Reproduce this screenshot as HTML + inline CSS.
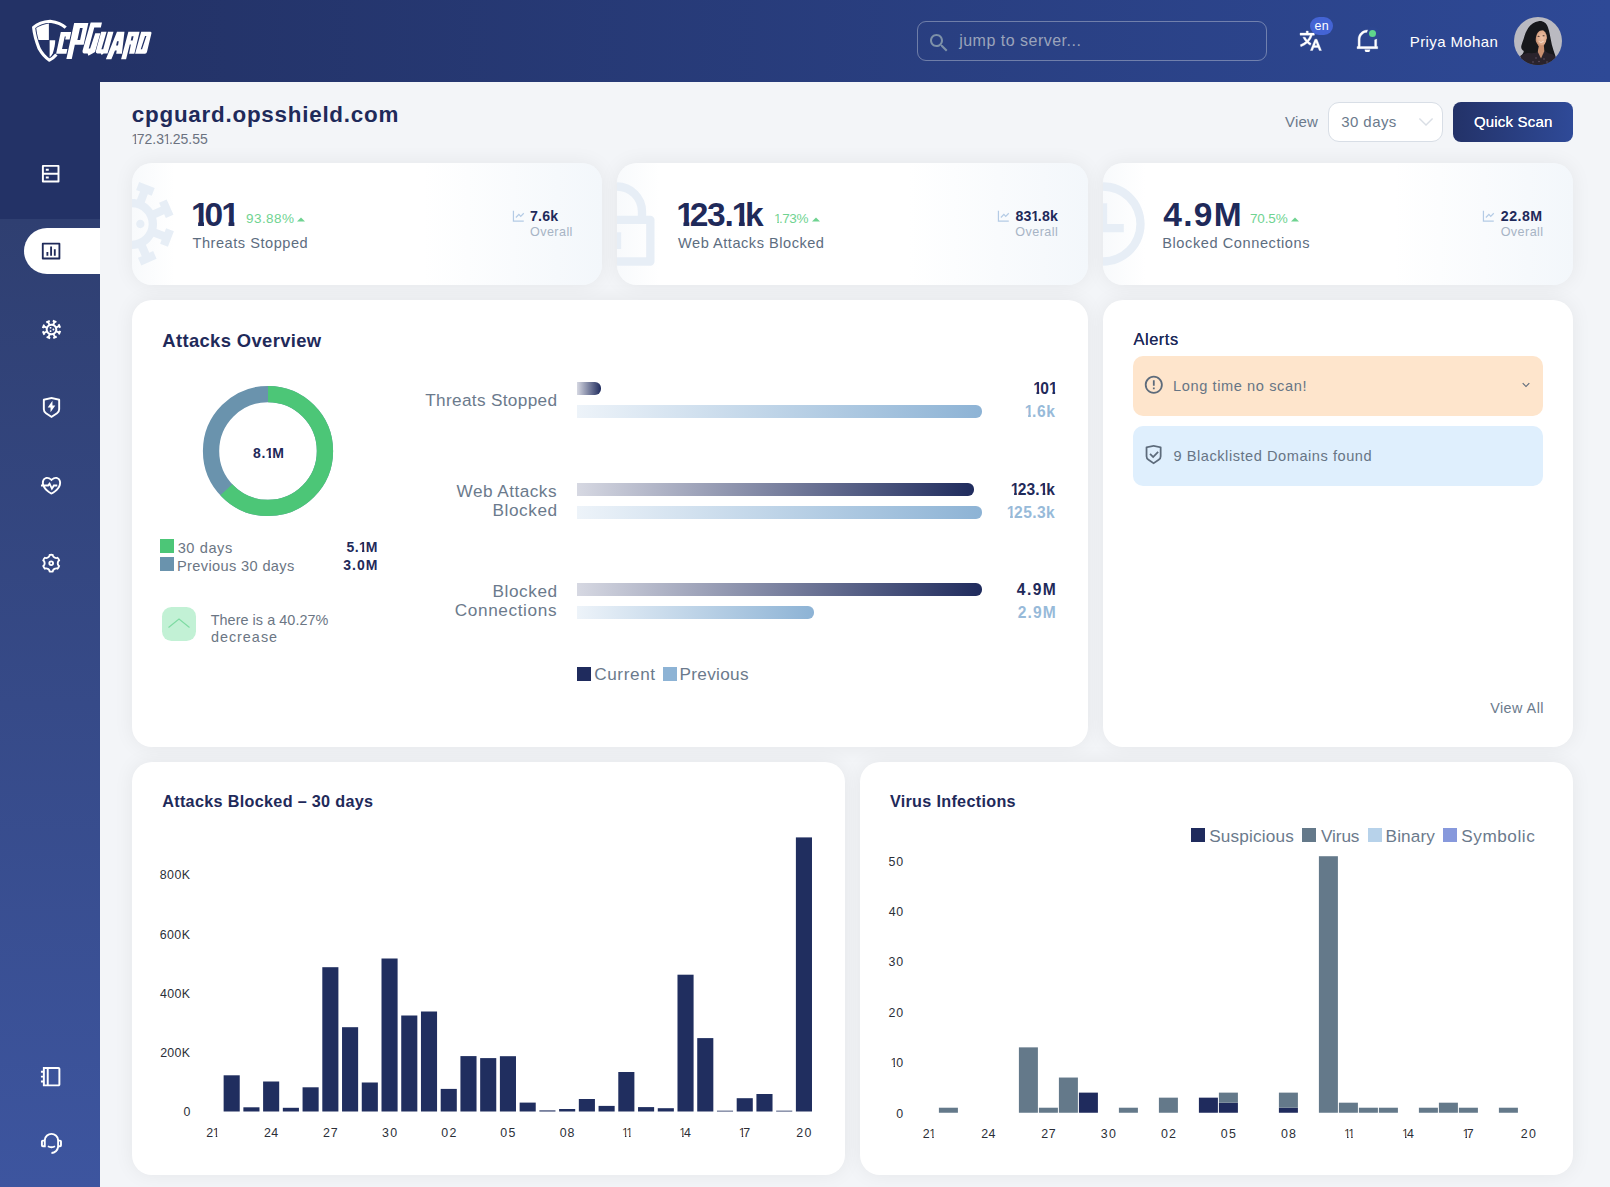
<!DOCTYPE html>
<html><head><meta charset="utf-8"><title>cPGuard</title>
<style>
html,body{margin:0;padding:0;}
body{width:1610px;height:1187px;overflow:hidden;position:relative;background:#f3f5f8;font-family:"Liberation Sans",sans-serif;}
.a{position:absolute;display:block;}
.t{position:absolute;white-space:nowrap;font-family:"Liberation Sans",sans-serif;}
.on,.ob{display:inline-block;}
.on{margin:0 -0.150em 0 -0.050em;clip-path:polygon(0 0,0.36em 0,0.36em 100%,0.235em 100%,0.235em 0.70em,0 0.70em);}
.ob{margin:0 -0.120em 0 -0.025em;clip-path:polygon(0 0,0.39em 0,0.39em 100%,0.215em 100%,0.215em 0.70em,0 0.70em);}
.card{position:absolute;background:#fff;border-radius:20px;box-shadow:0 0 20px rgba(20,20,30,0.062);overflow:hidden;}
</style></head><body>
<div class="a" style="left:0;top:0;width:1610px;height:82px;background:linear-gradient(90deg,#233266 0%,#233266 6%,#2e4996 100%);"></div>
<div class="a" style="left:0;top:82px;width:100px;height:1105px;background:linear-gradient(180deg,#2e3d6f 0%,#2f3f71 137px,#3d559f 100%);"></div>
<div class="a" style="left:0;top:0;width:100px;height:219px;background:#233266;"></div>
<div class="a" style="left:24px;top:228px;width:76px;height:46px;background:#fff;border-radius:23px 0 0 23px;"></div>
<svg class="a" style="left:39.40px;top:161.65px;" width="23.4" height="23.4" viewBox="0 0 24 24"><path fill="#fff" d="M5 11h14V5H5v6zm16-7v16a1 1 0 0 1-1 1H4a1 1 0 0 1-1-1V4a1 1 0 0 1 1-1h16a1 1 0 0 1 1 1zm-2 9H5v6h14v-6zM7 15h3v2H7v-2zm0-8h3v2H7V7z"/></svg>
<svg class="a" style="left:39.90px;top:240.20px;" width="22.2" height="22.2" viewBox="0 0 24 24"><path fill="#1f2a5a" d="M3 3h18a1 1 0 0 1 1 1v16a1 1 0 0 1-1 1H3a1 1 0 0 1-1-1V4a1 1 0 0 1 1-1zm1 2v14h16V5H4zm3 8h2v4H7v-4zm4-6h2v10h-2V7zm4 3h2v7h-2v-7z"/></svg>
<svg class="a" style="left:39.65px;top:317.80px;" width="23" height="23" viewBox="0 0 24 24"><path fill="#fff" d="M13.717 1.947l3.734 1.434-.717 1.867-.934-.359-.746 1.945c.779.462 1.444 1.094 1.945 1.846l1.903-.847-.407-.914 1.827-.813 1.627 3.654-1.827.813-.407-.913-1.902.847c.122.477.187.978.187 1.493 0 .406-.04.803-.117 1.187l1.944.746.358-.933 1.868.717-1.434 3.734-1.867-.717.358-.933-1.944-.747c-.462.779-1.094 1.444-1.846 1.945l.847 1.903.914-.407.813 1.827-3.654 1.627-.813-1.827.913-.407-.847-1.902c-.477.122-.978.187-1.493.187-.407 0-.804-.04-1.188-.118l-.746 1.945.934.358-.717 1.868-3.734-1.434.717-1.867.932.358.748-1.944C8.167 16.704 7.502 16.072 7 15.320l-1.903.847.407.914-1.827.813-1.627-3.654 1.827-.813.406.914 1.903-.848C6.065 13.016 6 12.515 6 12c0-.406.04-.803.117-1.187l-1.945-.746-.357.933-1.868-.717L3.381 6.550l1.867.717-.359.933 1.945.747C7.296 8.167 7.928 7.502 8.680 7l-.847-1.903-.914.407-.813-1.827L9.760 2.051l.813 1.827-.913.407.847 1.902C10.984 6.065 11.485 6 12 6c.406 0 .803.04 1.187.117l.745-1.945L13 3.815l.717-1.868zM12 8c-2.210 0-4 1.790-4 4s1.790 4 4 4 4-1.790 4-4-1.790-4-4-4zm-.5 4.866c.478.276.642.888.366 1.366-.276.478-.888.642-1.366.366-.478-.276-.642-.888-.366-1.366.276-.478.888-.642 1.366-.366zM14 11c.552 0 1 .448 1 1s-.448 1-1 1-1-.448-1-1 .448-1 1-1zm-2.134-1.232c.276.478.112 1.090-.366 1.366s-1.090.112-1.366-.366-.112-1.090.366-1.366 1.090-.112 1.366.366z"/></svg>
<svg class="a" style="left:39.75px;top:395.75px;" width="23" height="23" viewBox="0 0 24 24"><path fill="#fff" d="M3.783 2.826L12 1l8.217 1.826a1 1 0 0 1 .783.976v9.987a6 6 0 0 1-2.672 4.992L12 23l-6.328-4.219A6 6 0 0 1 3 13.790V3.802a1 1 0 0 1 .783-.976zM5 4.604v9.185a4 4 0 0 0 1.781 3.328L12 20.597l5.219-3.480A4 4 0 0 0 19 13.790V4.604L12 3.050 5 4.604zM13 10h3l-5 7v-5H8l5-7v5z"/></svg>
<svg class="a" style="left:40.10px;top:473.50px;" width="23" height="23" viewBox="0 0 24 24"><path fill="#fff" d="M16.5 3C19.538 3 22 5.500 22 9c0 7-7.500 11-10 12.500-1.978-1.187-7.084-3.937-9.132-8.500h2.239c1.738 3.088 5.140 5.303 6.893 6.382C14.400 17.889 20 14.319 20 9c0-2.500-1.500-4-3.500-4-1.640 0-3.137 1.195-3.937 2.016L12 7.590l-.563-.574C10.637 6.195 9.140 5 7.500 5 5.500 5 4 6.500 4 9c0 .685.090 1.352.267 2h-2.060A9.548 9.548 0 0 1 2 9c0-3.500 2.462-6 5.500-6 1.748 0 3.427.900 4.500 2.040C13.073 3.900 14.752 3 16.500 3zM10.200 8.300l2.300 4.900 1.400-2.200H18v2h-3l-2.700 4.200-2.400-5.100L9 13H1v-2h7l2.200-2.700z"/></svg>
<svg class="a" style="left:39.80px;top:552.10px;" width="22.4" height="22.4" viewBox="0 0 24 24"><path fill="#fff" d="M3.340 17a10.018 10.018 0 0 1-.978-2.326 3 3 0 0 0 .002-5.347A9.990 9.990 0 0 1 4.865 4.990a3 3 0 0 0 4.631-2.674 9.990 9.990 0 0 1 5.007.002 3 3 0 0 0 4.632 2.672c.579.590 1.093 1.261 1.525 2.010.433.749.757 1.530.978 2.326a3 3 0 0 0-.002 5.347 9.990 9.990 0 0 1-2.501 4.337 3 3 0 0 0-4.631 2.674 9.990 9.990 0 0 1-5.007-.002 3 3 0 0 0-4.632-2.672A10.018 10.018 0 0 1 3.340 17zm5.660.196a4.993 4.993 0 0 1 2.250 2.770c.499.047 1 .048 1.499.001A4.993 4.993 0 0 1 15 17.197a4.993 4.993 0 0 1 3.525-.565c.290-.408.540-.843.748-1.298A4.993 4.993 0 0 1 18 12c0-1.260.470-2.437 1.273-3.334a8.126 8.126 0 0 0-.750-1.298A4.993 4.993 0 0 1 15 6.804a4.993 4.993 0 0 1-2.250-2.770c-.499-.047-1-.048-1.499-.001A4.993 4.993 0 0 1 9 6.803a4.993 4.993 0 0 1-3.525.565 7.990 7.990 0 0 0-.748 1.298A4.993 4.993 0 0 1 6 12c0 1.260-.470 2.437-1.273 3.334a8.126 8.126 0 0 0 .750 1.298A4.993 4.993 0 0 1 9 17.196zM12 15a3 3 0 1 1 0-6 3 3 0 0 1 0 6zm0-2a1 1 0 1 0 0-2 1 1 0 0 0 0 2z"/></svg>
<svg class="a" style="left:39.45px;top:1064.85px;" width="23.3" height="23.3" viewBox="0 0 24 24"><path fill="#fff" d="M20.005 2C21.107 2 22 2.898 22 3.990v16.020c0 1.099-.893 1.990-1.995 1.990H4v-4H2v-2h2v-3H2v-2h2V8H2V6h2V2h16.005zM8 4H6v16h2V4zm12 0H10v16h10V4z"/></svg>
<svg class="a" style="left:40.05px;top:1132.00px;" width="22.9" height="22.9" viewBox="0 0 24 24"><path fill="#fff" d="M19.938 8H21a2 2 0 0 1 2 2v4a2 2 0 0 1-2 2h-1.062A8.001 8.001 0 0 1 12 23v-2a6 6 0 0 0 6-6V9A6 6 0 1 0 6 9v7H3a2 2 0 0 1-2-2v-4a2 2 0 0 1 2-2h1.062a8.001 8.001 0 0 1 15.876 0zM3 10v4h1v-4H3zm17 0v4h1v-4h-1zM7.760 15.785l1.060-1.696A5.972 5.972 0 0 0 12 15a5.972 5.972 0 0 0 3.180-.911l1.060 1.696A7.963 7.963 0 0 1 12 17a7.963 7.963 0 0 1-4.240-1.215z"/></svg>
<svg class="a" style="left:0;top:0" width="170" height="82" viewBox="0 0 170 82">
<path d="M65.7 27.7 C62.6 24.6 57.4 22.3 50.1 21.2 C43.6 21.6 37.6 23.6 33.6 27.4 C34 32 35.6 39.6 39.1 48.6 C42.4 54.6 45.6 57.8 49.4 60.2 C52.2 58.9 54.4 57 56.4 54.6" fill="none" stroke="#fff" stroke-width="3.1" stroke-linejoin="round"/>
<path d="M36.2 28 C39.8 25.6 44 24.2 48.9 23.4 L48.9 39.9 L38.6 39.9 C37.4 36 36.6 32 36.2 28 Z" fill="#fff"/>
<path d="M49.6 40.3 L55.2 40.3 C55.2 44 54.4 48.6 52.8 53.2 C51.8 55 50.8 56.4 49.6 57.4 Z" fill="#fff"/>
<g transform="translate(0,53.7) skewX(-12.24) translate(0,-53.7)" fill="#fff" fill-rule="evenodd">
<path d="M56.1 32.1 H66.5 V39.5 H62.1 V36.4 H61 V49 H66.4 V53.7 H56.1 Z"/>
<path d="M67.5 23 H81.7 V44.8 H72.9 V58.9 H67.5 Z M74.4 27.9 H77.1 V39.9 H74.4 Z"/>
<path d="M83.9 22.6 H95.2 V27.6 H88.6 L87.6 48.6 H89 L90.8 33.2 H95.9 L94.7 52 L92.4 53.5 L88.8 55.7 L87.6 53.5 H84.2 Q82.1 53.3 81.9 50.5 Z"/>
<path d="M96.45 31.7 H101.8 L100.4 49.2 H102.2 L103.2 31.7 H108.7 L107.5 53.5 H103.6 L101.9 54.9 L100.8 53.5 H97.2 Q95.4 53.3 95.3 51 Z"/>
<path d="M112.2 31.7 H119.7 L121.9 53.8 H116.2 L116 50.5 H114.3 L112.6 59.3 H107.1 Z M114.3 41.2 H116 L116.2 45.4 H114.3 Z"/>
<path d="M123.6 31.7 H134.8 L134.4 53.8 H129.1 L128.9 44.6 H127.8 L127.3 59.3 H122.3 Z M127.9 36.3 H129.8 V40.5 H127.9 Z"/>
<path d="M136.4 31.7 H145.8 Q147 31.8 147 33.2 L146.6 52 Q146.5 53.7 145 53.8 H135.1 Z M141.2 36 H142.6 L141.1 49.3 H139.8 Z"/>
</g>
</svg>
<div class="a" style="left:917px;top:21px;width:348px;height:38px;border:1px solid rgba(210,215,225,0.42);border-radius:9px;"></div>
<svg class="a" style="left:926.8px;top:31.3px" width="24" height="24" viewBox="0 0 24 24"><path fill="#7d91a8" d="M15.5 14h-.79l-.28-.27C15.41 12.59 16 11.11 16 9.5 16 5.91 13.09 3 9.5 3S3 5.91 3 9.5 5.91 16 9.5 16c1.61 0 3.09-.59 4.23-1.57l.27.28v.79l5 4.99L20.49 19l-4.99-5zm-6 0C7.01 14 5 11.99 5 9.5S7.01 5 9.5 5 14 7.01 14 9.5 11.99 14 9.5 14z"/></svg>
<div class="t" style="left:959.20px;top:30.90px;font-size:16px;line-height:19px;color:#9ba4bb;letter-spacing:0.489px;">jump to server...</div>
<svg class="a" style="left:1297.90px;top:28.60px;" width="24.6" height="24.6" viewBox="0 0 24 24"><path fill="#fff" stroke="#fff" stroke-width="0.35" stroke-linejoin="round" d="M18.500 10l4.400 11h-2.155l-1.201-3h-4.090l-1.199 3h-2.154L16.500 10h2zM10 2v2h6v2h-1.968a18.222 18.222 0 0 1-3.620 6.301 14.864 14.864 0 0 0 2.336 1.707l-.751 1.878A17.015 17.015 0 0 1 9 13.725a16.676 16.676 0 0 1-6.201 3.548l-.536-1.929a14.700 14.700 0 0 0 5.327-3.042A18.078 18.078 0 0 1 4.767 8h2.240A16.032 16.032 0 0 0 9 10.877a16.165 16.165 0 0 0 2.910-4.876L2 6V4h6V2h2zm7.500 10.885L16.253 16h2.492L17.500 12.885z"/></svg>
<div class="a" style="left:1309.8px;top:16.9px;width:23.2px;height:18.1px;border-radius:9.05px;background:#4464d4;"></div>
<div class="t" style="left:1314.47px;top:19.10px;font-size:12.5px;line-height:15px;color:#fff;letter-spacing:0.223px;">en</div>
<svg class="a" style="left:1354.60px;top:27.50px;" width="24.8" height="24.8" viewBox="0 0 24 24"><path fill="#fff" stroke="#fff" stroke-width="0.35" stroke-linejoin="round" d="M22 20H2v-2h1v-6.969C3 6.043 7.030 2 12 2s9 4.043 9 9.031V18h1v2zM5 18h14v-6.969C19 7.148 15.866 4 12 4s-7 3.148-7 7.031V18zm4.500 3h5a2.500 2.500 0 1 1-5 0z"/></svg>
<div class="a" style="left:1366.6px;top:27.4px;width:12.4px;height:12.4px;border-radius:6.2px;background:#2d4791;"></div>
<div class="a" style="left:1369px;top:29.9px;width:7.4px;height:7.4px;border-radius:4px;background:#5fd68b;"></div>
<div class="t" style="left:1409.76px;top:32.50px;font-size:15px;line-height:18px;color:#fff;letter-spacing:0.398px;">Priya Mohan</div>
<svg class="a" style="left:1514px;top:16.8px" width="48" height="48" viewBox="0 0 48 48">
<defs><clipPath id="av"><circle cx="24" cy="24" r="24"/></clipPath>
<radialGradient id="fc" cx="0.6" cy="0.5" r="0.65"><stop offset="0" stop-color="#efc3a7"/><stop offset="0.65" stop-color="#dba888"/><stop offset="1" stop-color="#a8735a"/></radialGradient></defs>
<g clip-path="url(#av)">
<rect width="48" height="48" fill="#babac1"/>
<path d="M24.5 4.2 C29 3.6 32.6 6 34 10.6 C35.4 14.6 36 18.6 36.8 22.6 C37.4 26 38.2 29.4 39.4 33 C40.4 36 41.4 38.6 42 41 L40 48 L8 48 L6.4 39 C8.4 37.6 9.6 36 9.8 34 C7.6 33 6.8 31 7.4 28.6 C8 26.4 8.8 24.4 9.6 22 C10.6 18.6 11.8 14.6 14.2 11 C16.6 7.4 20.4 4.8 24.5 4.2 Z" fill="#17181b"/>
<path d="M6.4 39 C10 36.6 15 35.2 20.6 34.6 L24 34 L27 41.4 L30 33.8 C35 34.8 39.6 37 42 41 L40 48 L8 48 Z" fill="#2a232c"/>
<path d="M23.6 26 L30.6 26 L30.4 34 L27 41.6 L23.6 34.4 Z" fill="#c99070"/>
<ellipse cx="27" cy="20.8" rx="5.9" ry="8" fill="url(#fc)"/>
<path d="M20.4 21 C19.8 15 23 11.4 27.6 11.4 C30.6 11.4 32.6 12.8 33.6 15.2 C31.4 13.2 28.6 12.8 26 13.8 C23.6 15 22.2 17.6 21.6 23 Z" fill="#17181b"/>
<path d="M21.2 22 C21.6 25 22.8 27.6 24.8 29.2 L23.6 35 C20.6 36.4 16 36.8 12 35 L14 26 Z" fill="#17181b"/>
<path d="M32.6 22.6 C32.2 25.4 31.2 27.6 29.8 28.8 L30.6 33.6 C32.4 35.6 36 37.4 40 37 L37 28 L34 20 Z" fill="#17181b"/>
<path d="M24.6 24 C26 25.2 28.6 25.2 30 23.8 C29.2 26 25.6 26.2 24.6 24 Z" fill="#fff3ea"/>
<ellipse cx="24.6" cy="19.2" rx="1.1" ry="0.55" fill="#3a2a25"/><ellipse cx="29.6" cy="18.8" rx="1.1" ry="0.55" fill="#3a2a25"/>
<g fill="#6e5a70"><circle cx="22" cy="41" r="0.7"/><circle cx="25" cy="44.5" r="0.7"/><circle cx="30" cy="42" r="0.7"/><circle cx="33" cy="45" r="0.7"/><circle cx="19" cy="45" r="0.7"/></g>
</g></svg>
<div class="t" style="left:131.80px;top:100.70px;font-size:22.4px;line-height:27px;color:#1f2a5a;font-weight:700;letter-spacing:0.762px;">cpguard.opsshield.com</div>
<div class="t" style="left:131.86px;top:130.80px;font-size:14px;line-height:17px;color:#6b7280;letter-spacing:-0.030px;"><span class="on">1</span>72.3<span class="on">1</span>.25.55</div>
<div class="t" style="left:1284.92px;top:113.30px;font-size:15px;line-height:18px;color:#6b7a8c;letter-spacing:0.263px;">View</div>
<div class="a" style="left:1328px;top:102px;width:113px;height:38px;border:1px solid #d8dee6;border-radius:11px;background:#fff;"></div>
<div class="t" style="left:1341.24px;top:113.30px;font-size:15px;line-height:18px;color:#6b7a8c;letter-spacing:0.425px;">30 days</div>
<svg class="a" style="left:1417px;top:116px" width="18" height="12" viewBox="0 0 18 12"><path d="M2.4 2.4 L9 9 L15.6 2.4" fill="none" stroke="#d9dee5" stroke-width="1.4"/></svg>
<div class="a" style="left:1453px;top:102px;width:120px;height:40px;border-radius:8px;background:linear-gradient(90deg,#233268,#2f4a98);"></div>
<div class="t" style="left:1473.89px;top:113.30px;font-size:15px;line-height:18px;color:#fff;letter-spacing:0.196px;text-shadow:0 0 0.6px #fff;">Quick Scan</div>
<div class="card" style="left:132px;top:163px;width:470.33px;height:122px;background:linear-gradient(90deg,#f8fafc 0%,#fff 9%,#fff 62%,#f3f7fb 100%);"><svg class="a" style="left:-50px;top:11px" width="100" height="100" viewBox="0 0 24 24"><path fill="#e7eef6" d="M13.717 1.947l3.734 1.434-.717 1.867-.934-.359-.746 1.945c.779.462 1.444 1.094 1.945 1.846l1.903-.847-.407-.914 1.827-.813 1.627 3.654-1.827.813-.407-.913-1.902.847c.122.477.187.978.187 1.493 0 .406-.04.803-.117 1.187l1.944.746.358-.933 1.868.717-1.434 3.734-1.867-.717.358-.933-1.944-.747c-.462.779-1.094 1.444-1.846 1.945l.847 1.903.914-.407.813 1.827-3.654 1.627-.813-1.827.913-.407-.847-1.902c-.477.122-.978.187-1.493.187-.407 0-.804-.04-1.188-.118l-.746 1.945.934.358-.717 1.868-3.734-1.434.717-1.867.932.358.748-1.944C8.167 16.704 7.502 16.072 7 15.320l-1.903.847.407.914-1.827.813-1.627-3.654 1.827-.813.406.914 1.903-.848C6.065 13.016 6 12.515 6 12c0-.406.04-.803.117-1.187l-1.945-.746-.357.933-1.868-.717L3.381 6.550l1.867.717-.359.933 1.945.747C7.296 8.167 7.928 7.502 8.680 7l-.847-1.903-.914.407-.813-1.827L9.760 2.051l.813 1.827-.913.407.847 1.902C10.984 6.065 11.485 6 12 6c.406 0 .803.04 1.187.117l.745-1.945L13 3.815l.717-1.868zM12 8c-2.210 0-4 1.790-4 4s1.790 4 4 4 4-1.790 4-4-1.790-4-4-4zm-.5 4.866c.478.276.642.888.366 1.366-.276.478-.888.642-1.366.366-.478-.276-.642-.888-.366-1.366.276-.478.888-.642 1.366-.366zM14 11c.552 0 1 .448 1 1s-.448 1-1 1-1-.448-1-1 .448-1 1-1zm-2.134-1.232c.276.478.112 1.090-.366 1.366s-1.090.112-1.366-.366-.112-1.090.366-1.366 1.090-.112 1.366.366z"/></svg></div>
<div class="t" style="left:191.76px;top:195.20px;font-size:33.5px;line-height:40px;color:#1f2a5a;font-weight:700;letter-spacing:-1.014px;"><span class="ob">1</span>0<span class="ob">1</span></div>
<div class="t" style="left:245.96px;top:211.30px;font-size:13.5px;line-height:16px;color:#6fd391;letter-spacing:0.463px;">93.88%</div>
<svg class="a" style="left:297.2px;top:217px" width="8" height="5" viewBox="0 0 8 5"><path d="M0 4.6 L4 0.4 L8 4.6 Z" fill="#6fd391"/></svg>
<div class="t" style="left:192.47px;top:233.60px;font-size:14.6px;line-height:18px;color:#5d6d7f;letter-spacing:0.522px;">Threats Stopped</div>
<div class="t" style="left:530.00px;top:224.80px;font-size:12.6px;line-height:15px;color:#a7b4c5;letter-spacing:0.422px;">Overall</div>
<div class="t" style="left:530.00px;top:207.80px;font-size:14.2px;line-height:17px;color:#1f2a5a;font-weight:700;letter-spacing:0.182px;">7.6k</div>
<svg class="a" style="left:510.80px;top:208.90px;" width="14.6" height="14.6" viewBox="0 0 24 24"><path fill="#b4cbe5" d="M5 3v16h16v2H3V3h2zm15.293 3.293l1.414 1.414L16 13.414l-3-2.999-4.293 4.292-1.414-1.414L13 7.586l3 2.999 4.293-4.292z"/></svg>
<div class="card" style="left:617.33px;top:163px;width:470.33px;height:122px;background:linear-gradient(90deg,#f8fafc 0%,#fff 9%,#fff 62%,#f3f7fb 100%);"><svg class="a" style="left:-50px;top:11px" width="100" height="100" viewBox="0 0 24 24"><path fill="#e7eef6" d="M19 10h1a1 1 0 0 1 1 1v10a1 1 0 0 1-1 1H4a1 1 0 0 1-1-1V11a1 1 0 0 1 1-1h1V9a7 7 0 1 1 14 0v1zM5 12v8h14v-8H5zm6 2h2v4h-2v-4zm6-4V9A5 5 0 0 0 7 9v1h10z"/></svg></div>
<div class="t" style="left:677.09px;top:195.20px;font-size:33.5px;line-height:40px;color:#1f2a5a;font-weight:700;letter-spacing:-1.231px;"><span class="ob">1</span>23.<span class="ob">1</span>k</div>
<div class="t" style="left:774.71px;top:211.30px;font-size:13.5px;line-height:16px;color:#6fd391;letter-spacing:-0.474px;"><span class="on">1</span>.73%</div>
<svg class="a" style="left:811.5px;top:217px" width="8" height="5" viewBox="0 0 8 5"><path d="M0 4.6 L4 0.4 L8 4.6 Z" fill="#6fd391"/></svg>
<div class="t" style="left:678.06px;top:233.60px;font-size:14.6px;line-height:18px;color:#5d6d7f;letter-spacing:0.507px;">Web Attacks Blocked</div>
<div class="t" style="left:1015.33px;top:224.80px;font-size:12.6px;line-height:15px;color:#a7b4c5;letter-spacing:0.422px;">Overall</div>
<div class="t" style="left:1015.47px;top:207.80px;font-size:14.2px;line-height:17px;color:#1f2a5a;font-weight:700;letter-spacing:0.214px;">83<span class="ob">1</span>.8k</div>
<svg class="a" style="left:996.13px;top:208.90px;" width="14.6" height="14.6" viewBox="0 0 24 24"><path fill="#b4cbe5" d="M5 3v16h16v2H3V3h2zm15.293 3.293l1.414 1.414L16 13.414l-3-2.999-4.293 4.292-1.414-1.414L13 7.586l3 2.999 4.293-4.292z"/></svg>
<div class="card" style="left:1102.67px;top:163px;width:470.33px;height:122px;background:linear-gradient(90deg,#f8fafc 0%,#fff 9%,#fff 62%,#f3f7fb 100%);"><svg class="a" style="left:-50px;top:11px" width="100" height="100" viewBox="0 0 24 24"><path fill="#e7eef6" d="M12 22C6.477 22 2 17.523 2 12S6.477 2 12 2s10 4.477 10 10-4.477 10-10 10zm0-2a8 8 0 1 0 0-16 8 8 0 0 0 0 16zm1-8h4v2h-6V7h2v5z"/></svg></div>
<div class="t" style="left:1163.37px;top:195.20px;font-size:33.5px;line-height:40px;color:#1f2a5a;font-weight:700;letter-spacing:1.273px;">4.9M</div>
<div class="t" style="left:1250.00px;top:211.30px;font-size:13.5px;line-height:16px;color:#6fd391;letter-spacing:-0.136px;">70.5%</div>
<svg class="a" style="left:1290.9px;top:217px" width="8" height="5" viewBox="0 0 8 5"><path d="M0 4.6 L4 0.4 L8 4.6 Z" fill="#6fd391"/></svg>
<div class="t" style="left:1162.27px;top:233.60px;font-size:14.6px;line-height:18px;color:#5d6d7f;letter-spacing:0.564px;">Blocked Connections</div>
<div class="t" style="left:1500.67px;top:224.80px;font-size:12.6px;line-height:15px;color:#a7b4c5;letter-spacing:0.422px;">Overall</div>
<div class="t" style="left:1500.77px;top:207.80px;font-size:14.2px;line-height:17px;color:#1f2a5a;font-weight:700;letter-spacing:0.490px;">22.8M</div>
<svg class="a" style="left:1481.47px;top:208.90px;" width="14.6" height="14.6" viewBox="0 0 24 24"><path fill="#b4cbe5" d="M5 3v16h16v2H3V3h2zm15.293 3.293l1.414 1.414L16 13.414l-3-2.999-4.293 4.292-1.414-1.414L13 7.586l3 2.999 4.293-4.292z"/></svg>
<div class="card" style="left:132px;top:300px;width:955.67px;height:446.6px;"></div>
<div class="t" style="left:162.24px;top:330.00px;font-size:18.4px;line-height:22px;color:#1f2a5a;font-weight:700;letter-spacing:0.373px;">Attacks Overview</div>
<svg class="a" style="left:197.85000000000002px;top:380.7px" width="140" height="140" viewBox="-70 -70 140 140">
<circle r="56.95" fill="none" stroke="#6a93ad" stroke-width="16.3"/>
<circle r="56.95" fill="none" stroke="#4cc677" stroke-width="16.3" stroke-dasharray="225.30 357.83" transform="rotate(-90)"/>
</svg>
<div class="t" style="left:253.09px;top:444.80px;font-size:14px;line-height:17px;color:#1f2a5a;font-weight:700;letter-spacing:0.592px;">8.<span class="ob">1</span>M</div>
<div class="a" style="left:160px;top:539px;width:13.6px;height:14px;background:#4cc677;"></div>
<div class="a" style="left:160px;top:557.2px;width:13.6px;height:13.8px;background:#6a93ad;"></div>
<div class="t" style="left:177.65px;top:539.00px;font-size:14.6px;line-height:18px;color:#6b7684;letter-spacing:0.587px;">30 days</div>
<div class="t" style="left:177.00px;top:557.00px;font-size:14.6px;line-height:18px;color:#6b7684;letter-spacing:0.355px;">Previous 30 days</div>
<div class="t" style="left:346.48px;top:538.50px;font-size:14px;line-height:17px;color:#1f2a5a;font-weight:700;letter-spacing:0.581px;">5.<span class="ob">1</span>M</div>
<div class="t" style="left:343.28px;top:556.50px;font-size:14px;line-height:17px;color:#1f2a5a;font-weight:700;letter-spacing:0.969px;">3.0M</div>
<div class="a" style="left:162px;top:607px;width:34px;height:34px;border-radius:9.5px;background:#c2f1d5;"></div>
<svg class="a" style="left:167px;top:616px" width="24" height="14" viewBox="0 0 24 14"><path d="M1.5 11.5 L12 3 L22.5 11.5" fill="none" stroke="#7edba3" stroke-width="1.1"/></svg>
<div class="t" style="left:210.68px;top:611.80px;font-size:14.4px;line-height:17px;color:#6b7684;letter-spacing:0.059px;">There is a 40.27%</div>
<div class="t" style="left:210.89px;top:628.80px;font-size:14.4px;line-height:17px;color:#6b7684;letter-spacing:1.000px;">decrease</div>
<div class="a" style="left:577px;top:382.2px;width:24.3px;height:12.8px;border-radius:0 6px 6px 0;background:linear-gradient(90deg,#d6d8e2 0%,#1f2b5d 100%);"></div>
<div class="a" style="left:577px;top:405px;width:405px;height:12.6px;border-radius:0 6px 6px 0;background:linear-gradient(90deg,#edf3f9 0%,#8db3d5 100%);"></div>
<div class="a" style="left:577px;top:483px;width:397px;height:12.6px;border-radius:0 6px 6px 0;background:linear-gradient(90deg,#d6d8e2 0%,#1f2b5d 100%);"></div>
<div class="a" style="left:577px;top:506px;width:405px;height:12.6px;border-radius:0 6px 6px 0;background:linear-gradient(90deg,#edf3f9 0%,#8db3d5 100%);"></div>
<div class="a" style="left:577px;top:583px;width:405px;height:12.6px;border-radius:0 6px 6px 0;background:linear-gradient(90deg,#d6d8e2 0%,#1f2b5d 100%);"></div>
<div class="a" style="left:577px;top:606px;width:237px;height:12.6px;border-radius:0 6px 6px 0;background:linear-gradient(90deg,#edf3f9 0%,#8db3d5 100%);"></div>
<div class="t" style="left:425.21px;top:390.00px;font-size:17.2px;line-height:21px;color:#6b7a8c;letter-spacing:0.336px;">Threats Stopped</div>
<div class="t" style="left:456.51px;top:480.80px;font-size:17.2px;line-height:21px;color:#6b7a8c;letter-spacing:0.480px;">Web Attacks</div>
<div class="t" style="left:492.58px;top:499.80px;font-size:17.2px;line-height:21px;color:#6b7a8c;letter-spacing:0.554px;">Blocked</div>
<div class="t" style="left:492.58px;top:580.80px;font-size:17.2px;line-height:21px;color:#6b7a8c;letter-spacing:0.554px;">Blocked</div>
<div class="t" style="left:454.74px;top:599.80px;font-size:17.2px;line-height:21px;color:#6b7a8c;letter-spacing:0.624px;">Connections</div>
<div class="t" style="left:1033.53px;top:378.80px;font-size:15.6px;line-height:19px;color:#1f2a5a;font-weight:700;letter-spacing:0.398px;"><span class="ob">1</span>0<span class="ob">1</span></div>
<div class="t" style="left:1025.13px;top:401.80px;font-size:15.6px;line-height:19px;color:#97bad9;font-weight:700;letter-spacing:0.516px;"><span class="ob">1</span>.6k</div>
<div class="t" style="left:1011.13px;top:479.80px;font-size:15.6px;line-height:19px;color:#1f2a5a;font-weight:700;letter-spacing:0.092px;"><span class="ob">1</span>23.<span class="ob">1</span>k</div>
<div class="t" style="left:1007.13px;top:502.80px;font-size:15.6px;line-height:19px;color:#97bad9;font-weight:700;letter-spacing:0.439px;"><span class="ob">1</span>25.3k</div>
<div class="t" style="left:1016.77px;top:579.80px;font-size:15.6px;line-height:19px;color:#1f2a5a;font-weight:700;letter-spacing:1.458px;">4.9M</div>
<div class="t" style="left:1017.85px;top:602.80px;font-size:15.6px;line-height:19px;color:#97bad9;font-weight:700;letter-spacing:1.095px;">2.9M</div>
<div class="a" style="left:577px;top:666.5px;width:14px;height:14px;background:#1f2b5d;"></div>
<div class="t" style="left:594.14px;top:664.10px;font-size:17.2px;line-height:21px;color:#6b7a8c;letter-spacing:0.607px;">Current</div>
<div class="a" style="left:663px;top:666.5px;width:14px;height:14px;background:#8db3d5;"></div>
<div class="t" style="left:679.58px;top:664.10px;font-size:17.2px;line-height:21px;color:#6b7a8c;letter-spacing:0.300px;">Previous</div>
<div class="card" style="left:1102.67px;top:300px;width:470.33px;height:446.6px;"></div>
<div class="t" style="left:1133.56px;top:329.20px;font-size:16.4px;line-height:20px;color:#1f2a5a;letter-spacing:0.539px;text-shadow:0 0 0.35px #1f2a5a;">Alerts</div>
<div class="a" style="left:1133px;top:356px;width:410px;height:60px;border-radius:10px;background:#fee5cc;"></div>
<div class="a" style="left:1133px;top:426px;width:410px;height:60px;border-radius:10px;background:#dfeffd;"></div>
<svg class="a" style="left:1142.60px;top:374.20px;" width="21.6" height="21.6" viewBox="0 0 24 24"><path fill="#5d6b7b" d="M12 22C6.477 22 2 17.523 2 12S6.477 2 12 2s10 4.477 10 10-4.477 10-10 10zm0-2a8 8 0 1 0 0-16 8 8 0 0 0 0 16zm-1-5h2v2h-2v-2zm0-8h2v6h-2V7z"/></svg>
<svg class="a" style="left:1142.80px;top:444.40px;" width="21.2" height="21.2" viewBox="0 0 24 24"><path fill="#5d6b7b" d="M12 1l8.217 1.826a1 1 0 0 1 .783.976v9.987a6 6 0 0 1-2.672 4.992L12 23l-6.328-4.219A6 6 0 0 1 3 13.790V3.802a1 1 0 0 1 .783-.976L12 1zm0 2.049L5 4.604v9.185a4 4 0 0 0 1.781 3.328L12 20.597l5.219-3.480A4 4 0 0 0 19 13.790V4.604L12 3.050zm4.452 5.173l1.415 1.414L11.503 16 7.260 11.757l1.414-1.414 2.828 2.828 4.950-4.950z"/></svg>
<div class="t" style="left:1173.00px;top:377.30px;font-size:14.6px;line-height:18px;color:#677585;letter-spacing:0.597px;">Long time no scan!</div>
<div class="t" style="left:1173.51px;top:447.30px;font-size:14.6px;line-height:18px;color:#677585;letter-spacing:0.538px;">9 Blacklisted Domains found</div>
<svg class="a" style="left:1519.00px;top:378.00px;" width="14" height="14" viewBox="0 0 24 24"><path fill="#5d6b7b" d="M12 13.172l4.950-4.950 1.414 1.414L12 16 5.636 9.636 7.050 8.222z"/></svg>
<div class="t" style="left:1490.13px;top:700.10px;font-size:14.4px;line-height:17px;color:#6b7a8c;letter-spacing:0.468px;">View All</div>
<div class="card" style="left:132px;top:762px;width:713px;height:413.3px;"></div>
<div class="t" style="left:162.19px;top:792.10px;font-size:16.2px;line-height:19px;color:#1f2a5a;font-weight:700;letter-spacing:0.315px;">Attacks Blocked – 30 days</div>
<svg class="a" style="left:0;top:0" width="1610" height="1187" viewBox="0 0 1610 1187"><g fill="#202e5f"><rect x="223.63" y="1075.30" width="16.1" height="36.20"/><rect x="243.37" y="1107.30" width="16.1" height="4.20"/><rect x="263.10" y="1081.50" width="16.1" height="30.00"/><rect x="282.83" y="1107.80" width="16.1" height="3.70"/><rect x="302.56" y="1087.30" width="16.1" height="24.20"/><rect x="322.30" y="967.20" width="16.1" height="144.30"/><rect x="342.03" y="1027.20" width="16.1" height="84.30"/><rect x="361.76" y="1082.50" width="16.1" height="29.00"/><rect x="381.50" y="958.50" width="16.1" height="153.00"/><rect x="401.23" y="1015.50" width="16.1" height="96.00"/><rect x="420.96" y="1011.50" width="16.1" height="100.00"/><rect x="440.70" y="1088.90" width="16.1" height="22.60"/><rect x="460.43" y="1056.10" width="16.1" height="55.40"/><rect x="480.16" y="1058.10" width="16.1" height="53.40"/><rect x="499.89" y="1056.20" width="16.1" height="55.30"/><rect x="519.63" y="1102.60" width="16.1" height="8.90"/><rect x="539.36" y="1110.40" width="16.1" height="1.10"/><rect x="559.09" y="1109.00" width="16.1" height="2.50"/><rect x="578.83" y="1099.00" width="16.1" height="12.50"/><rect x="598.56" y="1105.90" width="16.1" height="5.60"/><rect x="618.29" y="1072.00" width="16.1" height="39.50"/><rect x="638.03" y="1107.10" width="16.1" height="4.40"/><rect x="657.76" y="1108.20" width="16.1" height="3.30"/><rect x="677.49" y="974.70" width="16.1" height="136.80"/><rect x="697.23" y="1038.10" width="16.1" height="73.40"/><rect x="716.96" y="1110.70" width="16.1" height="0.80"/><rect x="736.69" y="1098.20" width="16.1" height="13.30"/><rect x="756.42" y="1094.00" width="16.1" height="17.50"/><rect x="776.16" y="1110.70" width="16.1" height="0.80"/><rect x="795.89" y="837.40" width="16.1" height="274.10"/></g></svg>
<div class="t" style="left:183.38px;top:1105.40px;font-size:12.4px;line-height:15px;color:#2b2f38;">0</div>
<div class="t" style="left:160.18px;top:1046.13px;font-size:12.4px;line-height:15px;color:#2b2f38;letter-spacing:0.269px;">200K</div>
<div class="t" style="left:160.12px;top:986.86px;font-size:12.4px;line-height:15px;color:#2b2f38;letter-spacing:0.289px;">400K</div>
<div class="t" style="left:159.78px;top:927.59px;font-size:12.4px;line-height:15px;color:#2b2f38;letter-spacing:0.403px;">600K</div>
<div class="t" style="left:159.87px;top:868.32px;font-size:12.4px;line-height:15px;color:#2b2f38;letter-spacing:0.372px;">800K</div>
<div class="t" style="left:206.18px;top:1126.30px;font-size:12.4px;line-height:15px;color:#2b2f38;letter-spacing:0.338px;">2<span class="on">1</span></div>
<div class="t" style="left:263.88px;top:1126.30px;font-size:12.4px;line-height:15px;color:#2b2f38;letter-spacing:0.382px;">24</div>
<div class="t" style="left:323.08px;top:1126.30px;font-size:12.4px;line-height:15px;color:#2b2f38;letter-spacing:0.661px;">27</div>
<div class="t" style="left:381.93px;top:1126.30px;font-size:12.4px;line-height:15px;color:#2b2f38;letter-spacing:1.351px;">30</div>
<div class="t" style="left:441.20px;top:1126.30px;font-size:12.4px;line-height:15px;color:#2b2f38;letter-spacing:1.337px;">02</div>
<div class="t" style="left:500.30px;top:1126.30px;font-size:12.4px;line-height:15px;color:#2b2f38;letter-spacing:1.413px;">05</div>
<div class="t" style="left:559.70px;top:1126.30px;font-size:12.4px;line-height:15px;color:#2b2f38;letter-spacing:1.044px;">08</div>
<div class="t" style="left:622.62px;top:1126.30px;font-size:12.4px;line-height:15px;color:#2b2f38;letter-spacing:-0.312px;"><span class="on">1</span><span class="on">1</span></div>
<div class="t" style="left:679.82px;top:1126.30px;font-size:12.4px;line-height:15px;color:#2b2f38;letter-spacing:-0.187px;"><span class="on">1</span>4</div>
<div class="t" style="left:739.42px;top:1126.30px;font-size:12.4px;line-height:15px;color:#2b2f38;letter-spacing:-0.708px;"><span class="on">1</span>7</div>
<div class="t" style="left:796.27px;top:1126.30px;font-size:12.4px;line-height:15px;color:#2b2f38;letter-spacing:1.306px;">20</div>
<div class="card" style="left:860px;top:762px;width:713px;height:413.3px;"></div>
<div class="t" style="left:889.88px;top:792.10px;font-size:16.2px;line-height:19px;color:#1f2a5a;font-weight:700;letter-spacing:0.304px;">Virus Infections</div>
<svg class="a" style="left:0;top:0" width="1610" height="1187" viewBox="0 0 1610 1187"><rect x="938.90" y="1107.72" width="19" height="5.03" fill="#64798a"/><rect x="1018.90" y="1047.36" width="19" height="65.39" fill="#64798a"/><rect x="1038.90" y="1107.72" width="19" height="5.03" fill="#64798a"/><rect x="1058.90" y="1077.54" width="19" height="35.21" fill="#64798a"/><rect x="1078.90" y="1092.63" width="19" height="20.12" fill="#1f2b5d"/><rect x="1118.90" y="1107.72" width="19" height="5.03" fill="#64798a"/><rect x="1158.90" y="1097.66" width="19" height="15.09" fill="#64798a"/><rect x="1198.90" y="1097.66" width="19" height="15.09" fill="#1f2b5d"/><rect x="1218.90" y="1102.69" width="19" height="10.06" fill="#1f2b5d"/><rect x="1218.90" y="1092.63" width="19" height="10.06" fill="#64798a"/><rect x="1278.90" y="1107.72" width="19" height="5.03" fill="#1f2b5d"/><rect x="1278.90" y="1092.63" width="19" height="15.09" fill="#64798a"/><rect x="1318.90" y="856.22" width="19" height="256.53" fill="#64798a"/><rect x="1338.90" y="1102.69" width="19" height="10.06" fill="#64798a"/><rect x="1358.90" y="1107.72" width="19" height="5.03" fill="#64798a"/><rect x="1378.90" y="1107.72" width="19" height="5.03" fill="#64798a"/><rect x="1418.90" y="1107.72" width="19" height="5.03" fill="#64798a"/><rect x="1438.90" y="1102.69" width="19" height="10.06" fill="#64798a"/><rect x="1458.90" y="1107.72" width="19" height="5.03" fill="#64798a"/><rect x="1498.90" y="1107.72" width="19" height="5.03" fill="#64798a"/></svg>
<div class="t" style="left:896.18px;top:1106.55px;font-size:12.4px;line-height:15px;color:#2b2f38;">0</div>
<div class="t" style="left:891.23px;top:1056.15px;font-size:12.4px;line-height:15px;color:#2b2f38;letter-spacing:0.537px;"><span class="on">1</span>0</div>
<div class="t" style="left:888.38px;top:1005.75px;font-size:12.4px;line-height:15px;color:#2b2f38;letter-spacing:0.906px;">20</div>
<div class="t" style="left:888.53px;top:955.35px;font-size:12.4px;line-height:15px;color:#2b2f38;letter-spacing:0.751px;">30</div>
<div class="t" style="left:888.72px;top:904.95px;font-size:12.4px;line-height:15px;color:#2b2f38;letter-spacing:0.565px;">40</div>
<div class="t" style="left:888.50px;top:854.55px;font-size:12.4px;line-height:15px;color:#2b2f38;letter-spacing:0.782px;">50</div>
<div class="t" style="left:922.68px;top:1127.10px;font-size:12.4px;line-height:15px;color:#2b2f38;letter-spacing:0.338px;">2<span class="on">1</span></div>
<div class="t" style="left:981.18px;top:1127.10px;font-size:12.4px;line-height:15px;color:#2b2f38;letter-spacing:0.382px;">24</div>
<div class="t" style="left:1041.18px;top:1127.10px;font-size:12.4px;line-height:15px;color:#2b2f38;letter-spacing:0.661px;">27</div>
<div class="t" style="left:1100.84px;top:1127.10px;font-size:12.4px;line-height:15px;color:#2b2f38;letter-spacing:1.351px;">30</div>
<div class="t" style="left:1160.90px;top:1127.10px;font-size:12.4px;line-height:15px;color:#2b2f38;letter-spacing:1.337px;">02</div>
<div class="t" style="left:1220.80px;top:1127.10px;font-size:12.4px;line-height:15px;color:#2b2f38;letter-spacing:1.413px;">05</div>
<div class="t" style="left:1281.00px;top:1127.10px;font-size:12.4px;line-height:15px;color:#2b2f38;letter-spacing:1.044px;">08</div>
<div class="t" style="left:1344.73px;top:1127.10px;font-size:12.4px;line-height:15px;color:#2b2f38;letter-spacing:-0.312px;"><span class="on">1</span><span class="on">1</span></div>
<div class="t" style="left:1402.73px;top:1127.10px;font-size:12.4px;line-height:15px;color:#2b2f38;letter-spacing:-0.187px;"><span class="on">1</span>4</div>
<div class="t" style="left:1463.13px;top:1127.10px;font-size:12.4px;line-height:15px;color:#2b2f38;letter-spacing:-0.708px;"><span class="on">1</span>7</div>
<div class="t" style="left:1520.78px;top:1127.10px;font-size:12.4px;line-height:15px;color:#2b2f38;letter-spacing:1.306px;">20</div>
<div class="a" style="left:1191px;top:828.4px;width:13.8px;height:13.4px;background:#1f2b5d;"></div>
<div class="t" style="left:1209.23px;top:826.10px;font-size:17.2px;line-height:21px;color:#6b7a8c;letter-spacing:0.177px;">Suspicious</div>
<div class="a" style="left:1302px;top:828.4px;width:13.8px;height:13.4px;background:#64798a;"></div>
<div class="t" style="left:1320.91px;top:826.10px;font-size:17.2px;line-height:21px;color:#6b7a8c;letter-spacing:-0.072px;">Virus</div>
<div class="a" style="left:1368px;top:828.4px;width:13.8px;height:13.4px;background:#b7d2ea;"></div>
<div class="t" style="left:1385.58px;top:826.10px;font-size:17.2px;line-height:21px;color:#6b7a8c;letter-spacing:0.122px;">Binary</div>
<div class="a" style="left:1443px;top:828.4px;width:13.8px;height:13.4px;background:#8799dc;"></div>
<div class="t" style="left:1461.23px;top:826.10px;font-size:17.2px;line-height:21px;color:#6b7a8c;letter-spacing:0.553px;">Symbolic</div>
</body></html>
